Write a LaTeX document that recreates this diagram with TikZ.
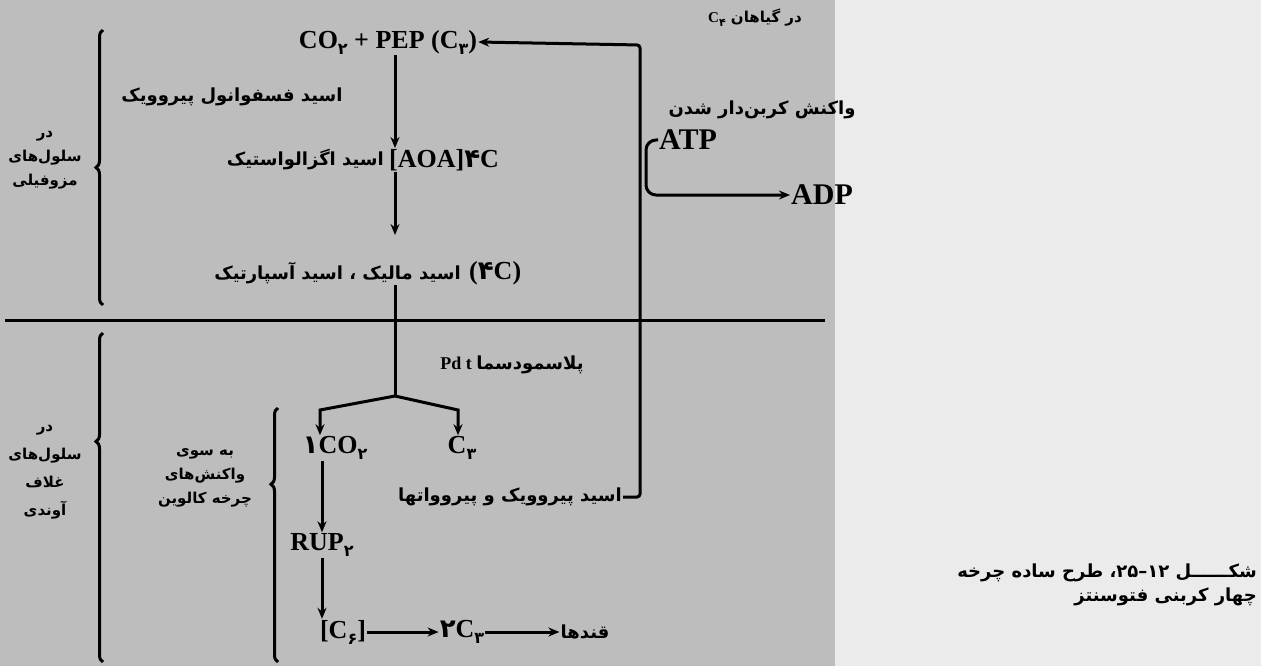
\documentclass[tikz,border=0pt]{standalone}
\usepackage{fontspec}
\setmainfont{Liberation Serif}
\newfontfamily\arabicfont[Script=Arabic]{DejaVu Sans}
\usetikzlibrary{arrows.meta,decorations.pathreplacing}
\TeXXeTstate=1
\definecolor{scangray}{gray}{0.74}
\definecolor{papergray}{gray}{0.92}
\newcommand{\fa}[1]{{\arabicfont\beginR #1\endR}}
\newcommand{\fn}[1]{{\arabicfont #1}}
\newcommand{\sbd}[1]{\raisebox{-0.5ex}{\fontsize{16}{16}\selectfont\arabicfont #1}}
\newcommand{\sbs}[1]{\raisebox{-0.5ex}{\fontsize{11}{11}\selectfont\arabicfont #1}}
\tikzset{
    chem/.style={font=\fontsize{26}{30}\selectfont\bfseries, inner sep=1pt},
    fatext/.style={font=\fontsize{18}{24}\selectfont\bfseries, inner sep=1pt},
    falabel/.style={font=\fontsize{15}{24}\selectfont\bfseries, inner sep=1pt},
    flow/.style={-{Stealth[length=11pt,width=9pt]}, line width=3pt},
    link/.style={line width=3pt},
    bracebar/.style={line width=3pt, decorate, decoration={brace, amplitude=7pt}},
}

\begin{document}
\begin{tikzpicture}[x=1pt,y=-1pt]
  % background
  \fill[papergray] (0,0) rectangle (1261,666);
  \fill[scangray] (0,0) rectangle (835,666);
  \useasboundingbox (0,0) rectangle (1261,666);
  % mesophyll cells
  \node[chem] (co2pep) at (388,42) {CO\sbd{۲} + PEP (C\sbd{۳})};
  \coordinate (trunk) at (395,0);
  \node[fatext] (pepname) at (232,97) {\fa{اسید فسفوانول پیروویک}};
  \node[chem, anchor=west] (aoa) at (388,160) {[AOA]\fn{۴}C};
  \node[fatext, anchor=east] (oaa) at (385,160) {\fa{اسید اگزالواستیک}};
  \node[fatext, anchor=east] (malic) at (462,273) {\fa{اسید مالیک ، اسید آسپارتیک}};
  \node[chem, anchor=west] (c4acid) at (468,273) {(\fn{۴}C)};
  \draw[flow] (co2pep.south -| trunk) -- (aoa.north -| trunk);
  \draw[flow, shorten >=26pt] (aoa.south -| trunk) -- (malic.north -| trunk);
  % line between the two cell layers
  \draw[link] (5,320) -- (825,320);
  % bundle sheath cells
  \coordinate (fork) at (395,396);
  \coordinate (forkL) at (320,410);
  \coordinate (forkR) at (458,410);
  \node[fatext] (plasmo) at (512,365) {Pd t \fa{پلاسمودسما}};
  \node[chem] (co2) at (335,448) {\fn{۱}CO\sbd{۲}};
  \node[chem] (c3) at (462,448) {C\sbd{۳}};
  \draw[link] (malic.south -| trunk) -- (fork);
  \draw[flow] (fork) -- (forkL) -- (forkL |- co2.north);
  \draw[flow] (fork) -- (forkR) -- (forkR |- c3.north);
  \node[fatext] (pyr) at (510,497) {\fa{اسید پیروویک و پیروواتها}};
  \coordinate (loopbot) at (640,497);
  \coordinate (looptop) at (640,45);
  \draw[flow, rounded corners=3pt] (pyr.east) -- (loopbot) -- (looptop) -- (co2pep.east);
  % calvin cycle
  \coordinate (calv) at (322,0);
  \node[chem] (rup) at (322,545) {RUP\sbd{۲}};
  \node[chem] (c6) at (343,632) {[C\sbd{۶}]};
  \node[chem] (twoc3) at (462,632) {\fn{۲}C\sbd{۳}};
  \node[fatext] (sugar) at (585,632) {\fa{قندها}};
  \draw[flow] (co2.south -| calv) -- (rup.north -| calv);
  \draw[flow] (rup.south -| calv) -- (c6.north -| calv);
  \draw[flow] (c6) -- (twoc3);
  \draw[flow] (twoc3) -- (sugar);
  \node[falabel, align=center] (calvin) at (205,478) {\fa{به سوی}\\\fa{واکنش‌های}\\\fa{چرخه کالوین}};
  % carboxylation
  \node[falabel] (plants) at (755,18) {\fa{در گیاهان \beginL\textrm{C}\sbs{۴}\endL}};
  \node[fatext] (carbox) at (762,110) {\fa{واکنش کربن‌دار شدن}};
  \node[chem, anchor=west, font=\fontsize{30}{34}\selectfont\bfseries] (atp) at (658,140) {ATP};
  \node[chem, anchor=west, font=\fontsize{30}{34}\selectfont\bfseries] (adp) at (790,195) {ADP};
  \draw[flow, rounded corners=10pt] (atp.west) -- (646,140) -- (646,195) -- (adp.west);
  % braces
  \draw[bracebar] (103,305) -- (103,30);
  \draw[bracebar, decoration={aspect=0.67}] (103,662) -- (103,333);
  \draw[bracebar, decoration={aspect=0.7}] (278,662) -- (278,408);
  % cell labels
  \node[falabel, align=center] (meso) at (45,160) {\fa{در}\\\fa{سلول‌های}\\\fa{مزوفیلی}};
  \node[falabel, align=center] (sheath) at (45,472) {\fa{در}\\[4pt]\fa{سلول‌های}\\[4pt]\fa{غلاف}\\[4pt]\fa{آوندی}};
  % caption
  \node[fatext, align=right, anchor=north east] (caption) at (1258,563) {\fa{شکــــــل \beginL۱۲–۲۵\endL، طرح ساده چرخه}\\\fa{چهار کربنی فتوسنتز}};
\end{tikzpicture}
\end{document}
